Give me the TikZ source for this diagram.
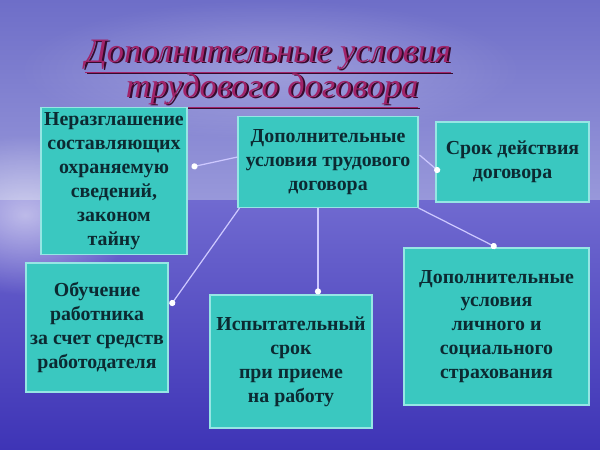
\documentclass[tikz,border=0pt]{standalone}
\usepackage{fontspec}
\setmainfont{Liberation Serif}
\usepackage{tikz}
\usetikzlibrary{arrows.meta}
\usetikzlibrary{calc}
\usetikzlibrary{fadings}

\definecolor{bgtop}{RGB}{110,110,200}
\definecolor{bgmid}{RGB}{152,152,218}
\definecolor{bgsea}{RGB}{112,106,208}
\definecolor{bgbot}{RGB}{62,52,182}
\definecolor{boxfill}{RGB}{58,200,192}
\definecolor{boxline}{RGB}{150,230,228}
\definecolor{boxtext}{RGB}{12,42,50}
\definecolor{linkcol}{RGB}{205,200,255}
\definecolor{titlecol}{RGB}{160,35,105}
\definecolor{titleshade}{RGB}{55,10,45}

\tikzfading[name=glow, inner color=transparent!0, outer color=transparent!100]

\begin{document}
\begin{tikzpicture}[
        x=0.02cm, y=-0.02cm,
        box/.style={draw=boxline, line width=0.6pt, fill=boxfill, text=boxtext,
            align=center, inner sep=1pt,
            font=\bfseries\fontsize{11.3}{13.6}\selectfont},
        link/.style={-{Circle[length=3.5pt, color=white]}, draw=linkcol, line width=0.7pt},
        title/.style={font=\itshape\fontsize{19.5}{22}\selectfont, text=titlecol, anchor=base}
    ]
        \useasboundingbox (0,0) rectangle (600,450);

        % Фон: небо и море
        \shade[top color=bgtop, bottom color=bgmid] (0,0) rectangle (600,200);
        \shade[top color=bgsea, bottom color=bgbot] (0,200) rectangle (600,450);
        \fill[white, path fading=glow, opacity=0.55] (25,215) ellipse [x radius=2.2cm, y radius=1.6cm];
        \fill[white, path fading=glow, opacity=0.25] (270,70) ellipse [x radius=5cm, y radius=1.4cm];

        % Заголовок
        \node[title, text=titleshade] (zag1s) at (270,63.5) {\underline{Дополнительные условия}};
        \node[title] (zag1) at (268,62) {\underline{Дополнительные условия}};
        \node[title, text=titleshade] (zag2s) at (274,98.5) {\underline{трудового договора}};
        \node[title] (zag2) at (272,97) {\underline{трудового договора}};

        % Блоки
        \node[box, minimum width=3.6cm, minimum height=1.82cm] (usl) at (328,162)
            {Дополнительные\\условия трудового\\договора};
        \node[box, minimum width=2.92cm, minimum height=2.94cm] (razgl) at (114,181)
            {Неразглашение\\составляющих\\охраняемую\\сведений,\\законом\\тайну};
        \node[box, minimum width=3.06cm, minimum height=1.6cm] (srok) at (512.5,162)
            {Срок действия\\договора};
        \node[box, minimum width=2.84cm, minimum height=2.58cm] (obuch) at (97,327.5)
            {Обучение\\работника\\за счет средств\\работодателя};
        \node[box, minimum width=3.24cm, minimum height=2.66cm] (isp) at (291,361.5)
            {Испытательный\\срок\\при приеме\\на работу};
        \node[box, minimum width=3.7cm, minimum height=3.14cm] (strah) at (496.5,326.5)
            {Дополнительные\\условия\\личного и\\социального\\страхования};

        % Связи
        \draw[link] ($(usl.west)+(0,-5)$) -- ($(razgl.east)+(4,-14)$);
        \draw[link] ($(usl.south west)+(2,0)$) -- ($(obuch.east)+(2,-22)$);
        \coordinate (uslS) at ($(usl.south)+(-10,0)$);
        \draw[link] (uslS) -- (uslS |- isp.north);
        \draw[link] (usl.south east) -- (strah.north);
        \draw[link] ($(usl.east)+(1,-7)$) -- ($(srok.west)+(4,10)$);
    \end{tikzpicture}
\end{document}
